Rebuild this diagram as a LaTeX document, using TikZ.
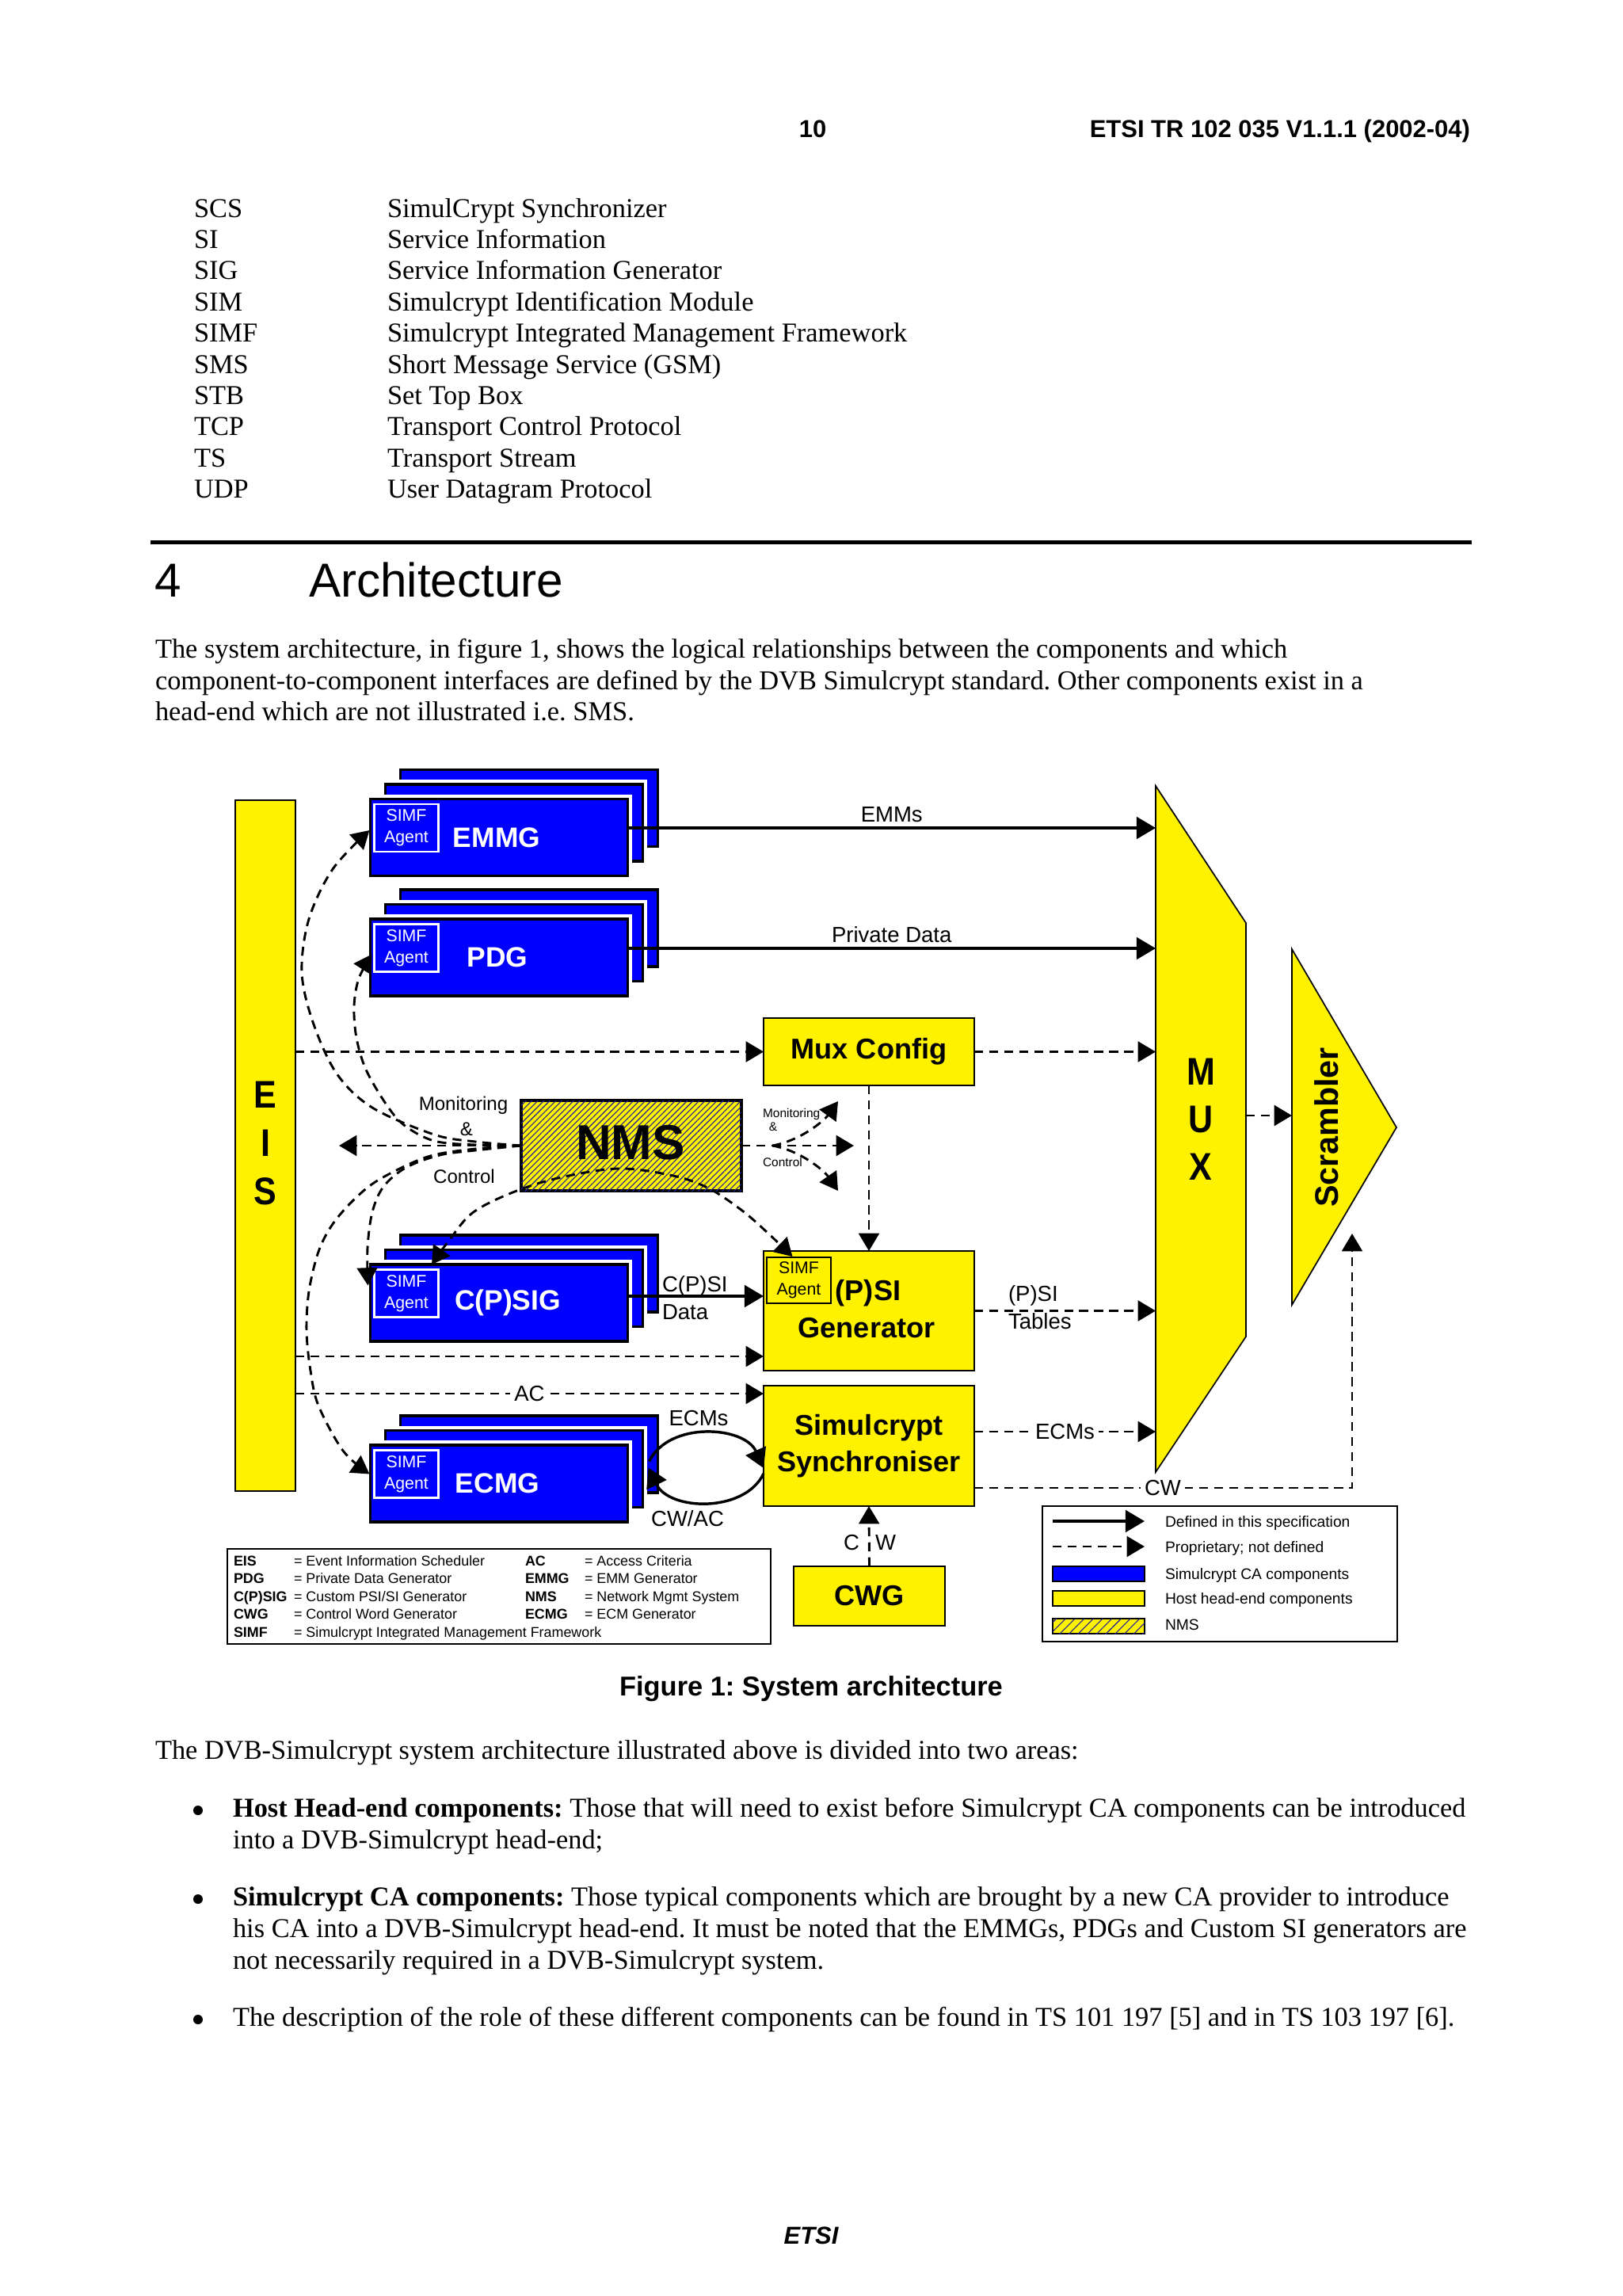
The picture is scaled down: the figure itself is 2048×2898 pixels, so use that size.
\documentclass[tikz,border=0pt]{standalone}
\usepackage{fontspec}
\setmainfont{Liberation Serif}
\setsansfont{Liberation Sans}
\usetikzlibrary{arrows.meta,patterns.meta,calc}
\newlength\PX
\setlength\PX{0.29066pt}
\newcommand\fsz[2]{\fontsize{#1}{#2}\selectfont}
\newcommand\vstretch[1]{\scalebox{1}[1.13]{#1}}
\definecolor{hatchblue}{RGB}{30,30,150}
\frenchspacing
\begin{document}
\begin{tikzpicture}[x=0.29066pt,y=-0.29066pt,
  every node/.style={inner sep=0pt,outer sep=0pt},
  body/.style={anchor=base west,font=\rmfamily\fsz{10}{11.5}},
  dl/.style={line width=0.85pt,dash pattern=on 3.3pt off 2.2pt},
  sl/.style={line width=1pt},
  arr/.style={-{Triangle[length=7pt,width=8pt]}},
  darr/.style={dl,-{Triangle[length=6.5pt,width=7.5pt]}},
  dboth/.style={dl,{Triangle[length=6.5pt,width=7.5pt]}-{Triangle[length=6.5pt,width=7.5pt]}},
  cab/.style={fill=blue,draw=black,line width=1pt,preaction={draw=white,line width=3.4pt},minimum width=325*\PX,minimum height=97*\PX},
  agw/.style={draw=white,line width=0.6pt,minimum width=81*\PX,minimum height=60*\PX,text=white,align=center,font=\sffamily\fsz{6.2}{7.8}},
  agk/.style={draw=black,line width=0.6pt,minimum width=81*\PX,minimum height=58*\PX,align=center,font=\sffamily\fsz{6.2}{7.8}},
  cal/.style={text=white,font=\sffamily\bfseries\fsz{10.3}{12}},
  host/.style={fill=yellow,draw=black,line width=0.7pt,align=center,font=\sffamily\bfseries\fsz{10.5}{13.4}},
  hostt/.style={font=\sffamily\bfseries\fsz{10.5}{13.4},align=center},
  lab/.style={font=\sffamily\fsz{8}{10},align=left},
  hatch/.style={postaction={pattern={Lines[angle=45,distance=#1,line width=0.32pt]},pattern color=hatchblue}},
  hatch/.default=1.55pt,
  leg/.style={anchor=base west,font=\sffamily\fsz{5.2}{6}},
  legb/.style={anchor=base west,font=\sffamily\bfseries\fsz{5.2}{6}},
  key/.style={anchor=base west,font=\sffamily\fsz{5.6}{7}},
  bul/.style={circle,fill=black,minimum size=12*\PX},
]
\fill[white] (0,0) rectangle (2048,2898);
\useasboundingbox (0,0) rectangle (2048,2898);

% ---------- header ----------
\node[anchor=base,font=\sffamily\bfseries\fsz{9}{11}] (pgno) at (1026,173) {10};
\node[anchor=base east,font=\sffamily\bfseries\fsz{9}{11}] (docid) at (1856,173) {ETSI TR 102 035 V1.1.1 (2002-04)};

% ---------- abbreviations ----------
\foreach \ab/\de [count=\i from 0] in {SCS/SimulCrypt Synchronizer,SI/Service Information,SIG/Service Information Generator,SIM/Simulcrypt Identification Module,SIMF/Simulcrypt Integrated Management Framework,SMS/Short Message Service (GSM),STB/Set Top Box,TCP/Transport Control Protocol,TS/Transport Stream,UDP/User Datagram Protocol}{
  \node[body] (ab\i) at (245,274+39.4*\i) {\ab};
  \node[body] (de\i) at (489,274+39.4*\i) {\de};
}

\draw[line width=1.45pt] (190,684) -- (1858,684);
\node[anchor=base west,font=\sffamily\fsz{17.5}{20}] (h4) at (195,753) {4};
\node[anchor=base west,font=\sffamily\fsz{17.5}{20}] (harch) at (390,753) {Architecture};

\node[body] (p1) at (196,830) {The system architecture, in figure 1, shows the logical relationships between the components and which};
\node[body] (p2) at (196,870) {component-to-component interfaces are defined by the DVB Simulcrypt standard. Other components exist in a};
\node[body] (p3) at (196,909) {head-end which are not illustrated i.e. SMS.};

% ---------- diagram: host components ----------
\node[fill=yellow,draw=black,line width=0.6pt,minimum width=76*\PX,minimum height=872*\PX] (eis) at (335,1446) {};
\node[font=\sffamily\bfseries\fsz{12.5}{17.7},align=center] (eisT) at (335,1443) {\vstretch{E}\\\vstretch{I}\\\vstretch{S}};

\draw[fill=yellow,line width=0.5pt] (1459,992) -- (1573,1165) -- (1573,1687) -- (1459,1858) -- cycle;
\node[font=\sffamily\bfseries\fsz{12.5}{17.4},align=center] (muxT) at (1516,1413) {\vstretch{M}\\\vstretch{U}\\\vstretch{X}};
\coordinate (muxW) at (1459,1425);
\coordinate (muxE) at (1573,1408);

\draw[fill=yellow,line width=0.5pt] (1631,1198) -- (1763,1423) -- (1631,1647) -- cycle;
\node[rotate=90,font=\sffamily\bfseries\fsz{12}{14}] (scrT) at (1675,1423) {Scrambler};
\coordinate (scrW) at (1631,1408);

\node[host,minimum width=266*\PX,minimum height=85*\PX] (muxcfg) at (1097,1327.5) {Mux Config};
\node[fill=yellow,draw=black,line width=0.7pt,minimum width=266*\PX,minimum height=151*\PX] (psigen) at (1097,1654.5) {};
\node[agk] (psiag) at (1008.5,1616) {SIMF\\Agent};
\node[hostt] (psiT1) at (1096,1632) {(P)SI};
\node[hostt] (psiT2) at (1094,1676) {Generator};
\node[host,minimum width=266*\PX,minimum height=152*\PX] (sync) at (1097,1825) {Simulcrypt\\Synchroniser};
\node[host,minimum width=191*\PX,minimum height=75*\PX] (cwg) at (1097.5,2014.5) {CWG};

% ---------- diagram: CA component stacks ----------
\foreach \nm/\cy/\lx/\txt in {emmg/1057/627/EMMG,pdg/1208.5/628/PDG,cpsig/1644.5/641/C(P)SIG,ecmg/1872.5/628/ECMG}{
  \node[cab] (\nm B) at (668,\cy-37) {};
  \node[cab] (\nm M) at (649,\cy-18.5) {};
  \node[cab] (\nm) at (630,\cy) {};
  \node[agw] (\nm ag) at (513,\cy-12) {SIMF\\Agent};
  \node[cal] (\nm T) at (\lx,\cy) {\txt};
}

% ---------- solid interfaces ----------
\draw[sl,arr] (emmg.east |- 0,1045) -- (muxW |- 0,1045) node[midway,above=2.2pt,lab] (emmsL) {EMMs};
\draw[sl,arr] (pdg.east |- 0,1197) -- (muxW |- 0,1197) node[midway,above=2.2pt,lab] (pdL) {Private Data};
\draw[sl,arr] (cpsig.east |- 0,1636) -- (psigen.west |- 0,1636);
\node[lab,anchor=west] (cpsiL) at (836,1638) {C(P)SI\\Data};

\coordinate (lpA) at ($(ecmgB.east)+(-11,9)$);
\coordinate (lpB) at ($(sync.west)+(0,28)$);
\coordinate (lpC) at ($(sync.west)+(0,35)$);
\coordinate (lpD) at ($(ecmgB.east)+(-12,17)$);
\draw[sl,arr] (lpA) .. controls (845,1793) and (940,1800) .. (lpB);
\draw[sl,arr] (lpC) .. controls (940,1910) and (845,1907) .. (lpD);
\node[lab] (ecmsL1) at (882,1790) {ECMs};
\node[lab] (cwacL) at (868,1917) {CW/AC};

% ---------- proprietary interfaces ----------
\draw[darr] (eis.east |- muxcfg.west) -- (muxcfg.west);
\draw[darr] (muxcfg.east) -- (muxcfg.east -| muxW);
\draw[darr] (muxcfg.south) -- (psigen.north);
\draw[darr] (eis.east |- 0,1712) -- (psigen.west |- 0,1712);
\draw[darr] (psigen.east) -- (psigen.east -| muxW);
\node[lab,anchor=west] (pstL) at (1273,1650) {(P)SI\\Tables};
\draw[darr] (eis.east |- 0,1759) -- (sync.west |- 0,1759) node[midway,fill=white,inner sep=1.5pt,lab] (acL) {AC};
\draw[darr] (sync.east |- 0,1807) -- (muxW |- 0,1807) node[midway,fill=white,inner sep=1.5pt,lab] (ecmsL2) {ECMs};
\coordinate (cwup) at (1707,1557);
\draw[darr] (sync.east |- 0,1878) -| (cwup);
\node[lab,fill=white,inner sep=1.5pt] (cwL) at (1468,1878) {CW};
\draw[darr] (cwg.north) -- (sync.south);
\node[lab] (cL) at (1075,1947) {C};
\node[lab] (wL) at (1118,1947) {W};
\draw[darr] (muxE) -- (scrW);

% ---------- NMS ----------
\node[fill=yellow,draw=black,line width=0.9pt,hatch,minimum width=278*\PX,minimum height=114*\PX] (nms) at (797,1446) {};

\coordinate (emmgin) at ($(emmgag.west)+(-6,3)$);
\coordinate (pdgin) at ($(pdgag.west)+(-3,8)$);
\coordinate (cpsigin) at ($(cpsigag.west)+(-8,-10)$);
\coordinate (ecmgin) at ($(ecmgag.west)+(-6,0)$);
\coordinate (cpsigtop) at ($(cpsig.north)+(-85,0)$);
\coordinate (psiin) at ($(psiag.north)+(-8,-1)$);
\coordinate (eisin) at (428,1446);

\draw[darr] plot[smooth,tension=0.55] coordinates {(nms.west) (600,1441) (548,1432) (470,1398) (425,1355) (395,1290) (381,1227) (390,1160) (420,1097) (emmgin)};
\draw[darr] plot[smooth,tension=0.55] coordinates {(nms.west) (600,1445) (548,1440) (510,1420) (487,1393) (462,1350) (450,1310) (447,1270) (453,1235) (pdgin)};
\draw[darr] plot[smooth,tension=0.55] coordinates {(nms.west) (600,1452) (555,1458) (512,1474) (484,1498) (470,1530) (464,1575) (cpsigin)};
\draw[darr] plot[smooth,tension=0.55] coordinates {(nms.west) (600,1450) (540,1460) (480,1488) (448,1513) (420,1545) (402,1580) (390,1630) (387,1680) (392,1730) (402,1774) (433,1831) (ecmgin)};
\draw[darr] (nms.west) -- (eisin);
\draw[dboth] plot[smooth,tension=0.55] coordinates {(cpsigtop) (566,1567) (595,1532) (640,1508) (700,1488) (780,1475) (850,1484) (895,1500) (937,1528) (968,1555) (psiin)};

\node[font=\sffamily\bfseries\fsz{18}{20}] (nmsT) at (796,1442) {NMS};
\node[font=\sffamily\fsz{7}{8}] (monL) at (585,1395) {Monitoring};
\node[font=\sffamily\fsz{7}{8}] (ampL) at (589,1425) {\&};
\node[font=\sffamily\fsz{7}{8}] (ctlL) at (586,1485) {Control};

\coordinate (fanc) at (975,1446);
\coordinate (fanR) at (1078,1446);
\coordinate (fanU) at (1058,1390);
\coordinate (fanD) at (1058,1503);
\draw[dl] (nms.east) -- (fanc);
\draw[darr] (fanc) -- (fanR);
\draw[darr] (fanc) .. controls (1010,1440) and (1040,1415) .. (fanU);
\draw[darr] (fanc) .. controls (1010,1452) and (1040,1477) .. (fanD);
\node[anchor=west,font=\sffamily\fsz{4.5}{5}] (monR) at (963,1406) {Monitoring};
\node[font=\sffamily\fsz{4.5}{5}] (ampR) at (976,1422) {\&};
\node[anchor=west,font=\sffamily\fsz{4.5}{5}] (ctlR) at (963,1467) {Control};

% ---------- abbreviation box ----------
\node[draw=black,line width=0.6pt,minimum width=686*\PX,minimum height=120*\PX] (abbrbox) at (630,2015) {};
\node[legb] (la1) at (295,1976) {EIS};
\node[leg] (lb1) at (371,1976) {= Event Information Scheduler};
\node[legb] (lc1) at (663,1976) {AC};
\node[leg] (ld1) at (738,1976) {= Access Criteria};
\node[legb] (la2) at (295,1998.5) {PDG};
\node[leg] (lb2) at (371,1998.5) {= Private Data Generator};
\node[legb] (lc2) at (663,1998.5) {EMMG};
\node[leg] (ld2) at (738,1998.5) {= EMM Generator};
\node[legb] (la3) at (295,2021) {C(P)SIG};
\node[leg] (lb3) at (371,2021) {= Custom PSI/SI Generator};
\node[legb] (lc3) at (663,2021) {NMS};
\node[leg] (ld3) at (738,2021) {= Network Mgmt System};
\node[legb] (la4) at (295,2043.5) {CWG};
\node[leg] (lb4) at (371,2043.5) {= Control Word Generator};
\node[legb] (lc4) at (663,2043.5) {ECMG};
\node[leg] (ld4) at (738,2043.5) {= ECM Generator};
\node[legb] (la5) at (295,2066) {SIMF};
\node[leg] (lb5) at (371,2066) {= Simulcrypt Integrated Management Framework};

% ---------- key box ----------
\node[draw=black,line width=0.6pt,minimum width=448*\PX,minimum height=171*\PX] (keybox) at (1540,1986.5) {};
\coordinate (k1a) at (1329,1920);
\coordinate (k1b) at (1445,1920);
\coordinate (k2a) at (1329,1952);
\coordinate (k2b) at (1445,1952);
\draw[sl,arr] (k1a) -- (k1b);
\draw[darr] (k2a) -- (k2b);
\node[fill=blue,draw=black,line width=0.5pt,minimum width=116*\PX,minimum height=19*\PX] (k3) at (1387,1986.5) {};
\node[fill=yellow,draw=black,line width=0.5pt,minimum width=116*\PX,minimum height=19*\PX] (k4) at (1387,2017.5) {};
\node[fill=yellow,draw=black,line width=0.5pt,hatch=2.4pt,minimum width=116*\PX,minimum height=19*\PX] (k5) at (1387,2052.5) {};
\node[key] (kt1) at (1471,1927) {Defined in this specification};
\node[key] (kt2) at (1471,1959) {Proprietary; not defined};
\node[key] (kt3) at (1471,1993) {Simulcrypt CA components};
\node[key] (kt4) at (1471,2024) {Host head-end components};
\node[key] (kt5) at (1471,2057) {NMS};

% ---------- caption and following text ----------
\node[anchor=base,font=\sffamily\bfseries\fsz{10}{12}] (cap) at (1024,2140) {Figure 1: System architecture};
\node[body] (q1) at (196,2220) {The DVB-Simulcrypt system architecture illustrated above is divided into two areas:};
\node[bul] (bu1) at (250,2285) {};
\node[body] (b1a) at (294,2293) {\textbf{Host Head-end components:} Those that will need to exist before Simulcrypt CA components can be introduced};
\node[body] (b1b) at (294,2333) {into a DVB-Simulcrypt head-end;};
\node[bul] (bu2) at (250,2397) {};
\node[body] (b2a) at (294,2405) {\textbf{Simulcrypt CA components:} Those typical components which are brought by a new CA provider to introduce};
\node[body] (b2b) at (294,2445) {his CA into a DVB-Simulcrypt head-end. It must be noted that the EMMGs, PDGs and Custom SI generators are};
\node[body] (b2c) at (294,2485) {not necessarily required in a DVB-Simulcrypt system.};
\node[bul] (bu3) at (250,2549) {};
\node[body] (b3a) at (294,2557) {The description of the role of these different components can be found in TS 101 197 [5] and in TS 103 197 [6].};

\node[anchor=base,font=\sffamily\bfseries\itshape\fsz{9}{11}] (foot) at (1024,2832) {ETSI};
\end{tikzpicture}
\end{document}
